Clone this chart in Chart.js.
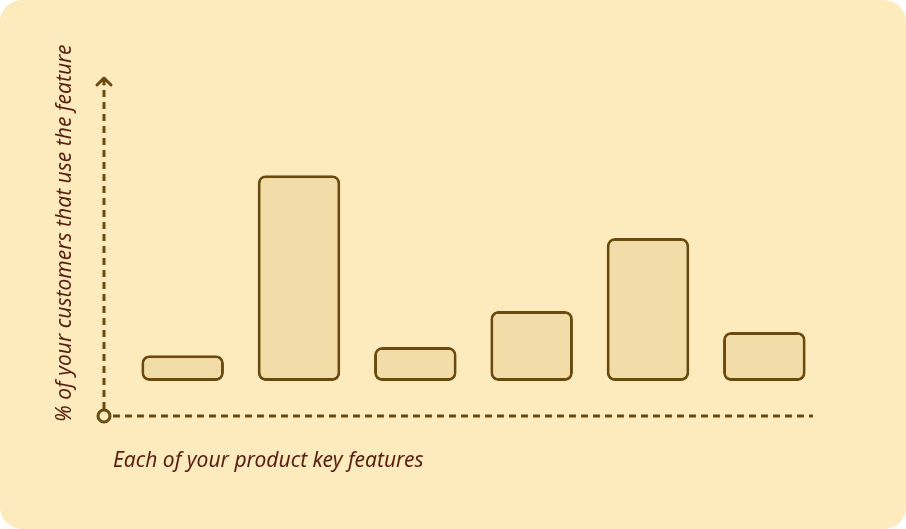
<!DOCTYPE html>
<html>
<head>
<meta charset="utf-8">
<script src="https://cdn.jsdelivr.net/npm/chart.js@4/dist/chart.umd.min.js"></script>
<style>
  html, body { margin: 0; padding: 0; background: #ffffff; }
  #card { width: 906px; height: 529px; background: #feebbd; border-radius: 22px; overflow: hidden; position: relative; }
  canvas { display: block; }
</style>
</head>
<body>
<div id="card"><canvas id="c" width="906" height="529"></canvas></div>
<script>
const categories = ["Feature 1", "Feature 2", "Feature 3", "Feature 4", "Feature 5", "Feature 6"];
const usageValues = [8.6, 68.4, 11.3, 23.3, 47.5, 16.3];
const xAxisTitle = "Each of your product key features";
const yAxisTitle = "% of your customers that use the feature";

const INK = "#6b4a10";
const TEXT = "#5a1f12";
const BG = "#feebbd";
const FONT = "italic 21px 'Noto Sans', 'DejaVu Sans', sans-serif";

const axesPlugin = {
  id: "sketchAxes",
  afterDraw(chart) {
    const { ctx, chartArea } = chart;
    const y = chart.scales.y;
    const ox = chartArea.left - 20.5;
    const oy = y.getPixelForValue(y.min);
    const topY = chartArea.top - 2;
    ctx.save();
    ctx.strokeStyle = INK;
    ctx.lineWidth = 3;
    ctx.setLineDash([7, 5]);
    // y axis
    ctx.beginPath();
    ctx.moveTo(ox, oy - 7);
    ctx.lineTo(ox, topY + 6);
    ctx.stroke();
    // x axis
    ctx.beginPath();
    ctx.moveTo(ox + 9, oy);
    ctx.lineTo(chartArea.right - 9.5, oy);
    ctx.stroke();
    ctx.setLineDash([]);
    // arrow head
    ctx.lineCap = "round";
    ctx.lineJoin = "round";
    ctx.beginPath();
    ctx.moveTo(ox - 7, topY + 7);
    ctx.lineTo(ox, topY);
    ctx.lineTo(ox + 7, topY + 7);
    ctx.moveTo(ox, topY);
    ctx.lineTo(ox, topY + 6);
    ctx.stroke();
    // origin circle
    ctx.beginPath();
    ctx.arc(ox, oy, 6, 0, Math.PI * 2);
    ctx.fillStyle = BG;
    ctx.fill();
    ctx.stroke();
    // titles
    ctx.fillStyle = TEXT;
    ctx.font = FONT;
    ctx.textBaseline = "middle";
    ctx.textAlign = "left";
    ctx.fillText(xAxisTitle, ox + 9, oy + 45);
    ctx.translate(ox - 39, oy + 6);
    ctx.rotate(-Math.PI / 2);
    ctx.fillText(yAxisTitle, 0, 0);
    ctx.restore();
  }
};

new Chart(document.getElementById("c"), {
  type: "bar",
  data: {
    labels: categories,
    datasets: [{
      data: usageValues,
      backgroundColor: "#f2dca8",
      borderColor: INK,
      borderWidth: 3,
      borderRadius: 8,
      borderSkipped: false,
      barPercentage: 0.71,
      categoryPercentage: 1
    }]
  },
  options: {
    responsive: false,
    animation: false,
    devicePixelRatio: 1,
    layout: { padding: { left: 124.5, right: 83.5, top: 80, bottom: 113 } },
    plugins: { legend: { display: false }, tooltip: { enabled: false } },
    scales: {
      x: { display: false },
      y: { display: false, min: -11.6, max: 100 }
    }
  },
  plugins: [axesPlugin]
});
</script>
</body>
</html>
